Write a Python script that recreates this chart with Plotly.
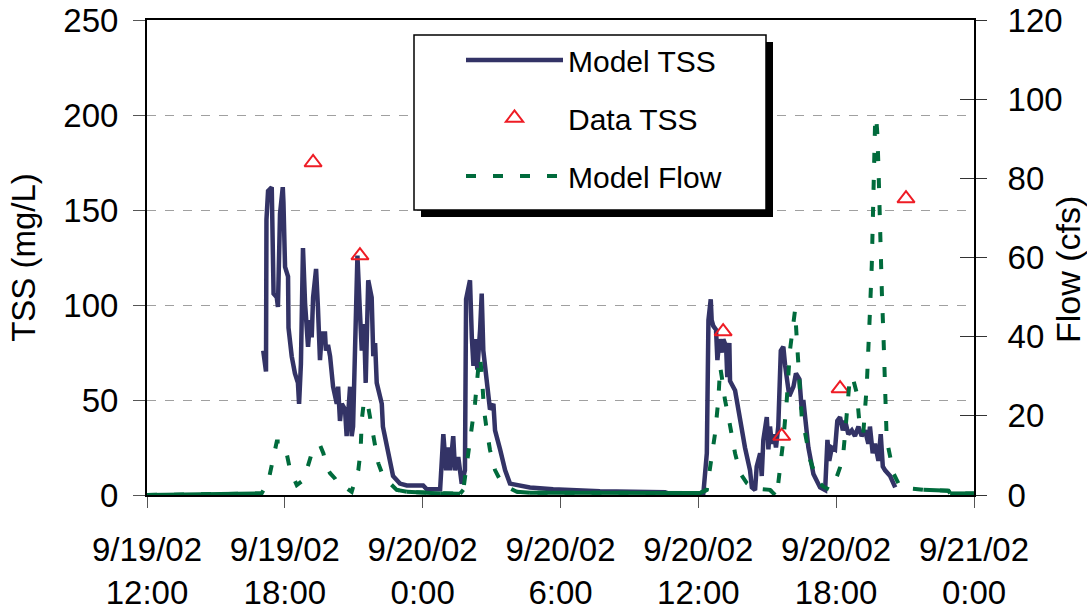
import pandas as pd
import plotly.graph_objects as go

# ---------------- data ----------------
START = pd.Timestamp("2002-09-19 12:00")

# hours after 9/19/02 12:00
tss_hours = [5.06, 5.18, 5.20, 5.27, 5.43, 5.46, 5.49, 5.51, 5.65, 5.70, 5.79, 5.91, 5.94, 6.01, 6.14, 6.16,
             6.30, 6.44, 6.57, 6.62, 6.70, 6.73, 6.79, 6.88, 6.95, 7.01, 7.10, 7.17, 7.23, 7.36, 7.44, 7.53,
             7.61, 7.75, 7.79, 7.88, 7.97, 8.10, 8.26, 8.32, 8.40, 8.48, 8.62, 8.69, 8.84, 8.91, 8.97, 9.05,
             9.16, 9.27, 9.35, 9.45, 9.52, 9.63, 9.78, 9.85, 9.93, 10.00, 10.22, 10.27, 10.49, 10.71, 11.01,
             11.31, 12.02, 12.18, 12.76, 12.90, 13.02, 13.12, 13.19, 13.33, 13.41, 13.55, 13.70, 13.84, 13.89,
             14.06, 14.14, 14.21, 14.28, 14.38, 14.50, 14.57, 14.64, 14.71, 14.86, 14.93, 15.08, 15.15, 15.37,
             15.59, 15.80, 16.67, 17.68, 18.42, 19.72, 22.55, 22.77, 24.07, 24.22, 24.37, 24.44, 24.54, 24.58,
             24.65, 24.77, 24.83, 24.92, 25.02, 25.09, 25.21, 25.26, 25.35, 25.38, 25.60, 25.82, 26.03, 26.25,
             26.33, 26.47, 26.54, 26.69, 26.76, 26.83, 26.98, 27.05, 27.12, 27.20, 27.30, 27.38, 27.48, 27.59,
             27.70, 27.78, 27.85, 27.96, 28.14, 28.25, 28.40, 28.50, 28.57, 28.65, 28.79, 29.01, 29.30, 29.52,
             29.62, 29.70, 29.81, 29.95, 30.05, 30.17, 30.29, 30.39, 30.53, 30.68, 30.82, 30.97, 31.11, 31.26,
             31.40, 31.47, 31.59, 31.69, 31.84, 31.94, 32.03, 32.13, 32.35, 32.57]
tss_values = [76, 65, 145, 160, 162, 139, 131, 106, 104, 99, 148, 162, 154, 120, 115, 88,
              73, 64, 59, 48, 69, 101, 130, 101, 92, 78, 92, 83, 104, 119, 99, 71,
              85, 85, 76, 79, 73, 57, 48, 57, 39, 48, 45, 31, 57, 31, 36, 83,
              126, 96, 76, 90, 59, 113, 104, 73, 80, 59, 48, 36, 22, 10, 6,
              5, 5, 3, 3, 32, 13, 25, 13, 31, 13, 20, 6, 13, 103,
              113, 83, 68, 82, 66, 87, 106, 76, 69, 52, 45, 48, 34, 24,
              13, 6, 4, 3, 2.6, 2, 1.5, 0.5, 0.5, 1, 22, 92, 103, 92,
              89, 87, 71, 82, 75, 82, 78, 62, 80, 60, 55, 39, 25, 13,
              4, 2.6, 15, 22, 10, 29, 41, 24, 36, 27, 32, 25, 36, 76,
              78, 68, 61, 52, 57, 64, 61, 45, 50, 39, 25, 11, 4, 2.6,
              29, 18, 25, 24, 39, 41, 34, 39, 32, 34, 31, 36, 31, 34,
              27, 36, 22, 27, 18, 32, 15, 13, 10, 4]

flow_hours = [0.00, 4.99, 5.28, 5.50, 5.65, 5.86, 6.08, 6.23, 6.37, 6.52, 6.73, 6.95, 7.17, 7.31, 7.53,
              7.68, 7.82, 7.97, 8.18, 8.40, 8.69, 8.91, 9.06, 9.20, 9.30, 9.35, 9.45, 9.63, 9.78, 9.93,
              10.07, 10.29, 10.58, 10.87, 11.31, 12.76, 13.63, 13.77, 13.92, 14.06, 14.21, 14.28, 14.42,
              14.50, 14.58, 14.67, 14.79, 14.93, 15.15, 15.37, 15.66, 16.10, 16.67, 24.07, 24.37, 24.51,
              24.73, 24.87, 24.95, 25.02, 25.16, 25.31, 25.45, 25.60, 25.82, 26.11, 26.40, 27.12, 27.34,
              27.48, 27.70, 27.85, 27.99, 28.14, 28.21, 28.29, 28.40, 28.50, 28.65, 28.87, 29.16, 29.44,
              29.73, 29.87, 30.17, 30.31, 30.39, 30.46, 30.60, 30.75, 30.90, 31.04, 31.18, 31.33, 31.40,
              31.47, 31.55, 31.60, 31.65, 31.69, 31.74, 31.79, 31.84, 31.91, 31.99, 32.06, 32.13, 32.20,
              32.35, 32.49, 32.78, 33.07, 33.80, 34.89, 34.96, 36.00]
flow_values = [0, 0.4, 3.4, 9.7, 13.5, 13.5, 10.5, 6.3, 4.6, 2.5, 3.4, 6.3, 10.5, 12.2, 12.6,
               10.5, 7.1, 5.5, 4.2, 2.1, 1.7, 0.8, 3.8, 6.3, 11.4, 19, 24, 22.3, 17.3, 12.2,
               8, 4.6, 3, 1.3, 0.8, 0.4, 0.3, 1.3, 8, 14.7, 20.6, 23.2, 32,
               35, 30, 21.5, 16.4, 11.4, 6.3, 3.8, 2.1, 0.8, 0.6, 0.5, 1.3, 7.1,
               15.6, 24, 32.4, 29.9, 24, 19.8, 15.6, 10.5, 5.5, 3, 1.7, 1.3, 0,
               3, 13.9, 24, 36.6, 45, 46.7, 39, 28.2, 19.8, 15.6, 8.8, 3.8, 2.1,
               1.3, 2, 7, 10.5, 15.6, 21.5, 30, 29, 25.7, 16.4, 15.6, 27.4, 40,
               46.3, 58, 70, 87, 93, 95.6, 91.4, 83, 66, 51, 40, 28, 14,
               9.7, 5.5, 2.1, 1.7, 1.3, 1.1, 0.4, 0.4]

data_hours = [7.23, 9.27, 25.08, 27.63, 30.17, 33.04]
data_tss = [175, 126, 86, 31, 56, 156]

tick_hours = [0, 6, 12, 18, 24, 30, 36]
tick_text = ["9/19/02<br>12:00", "9/19/02<br>18:00", "9/20/02<br>0:00", "9/20/02<br>6:00",
             "9/20/02<br>12:00", "9/20/02<br>18:00", "9/21/02<br>0:00"]


def to_time(hours):
    return [START + pd.Timedelta(hours=h) if h is not None else None for h in hours]


# low-flow stretches render as a continuous line in the original (dense points)
base_hours, base_values = [], []
for i in range(len(flow_values) - 1):
    if flow_values[i] <= 1.3 and flow_values[i + 1] <= 1.3:
        base_hours += [flow_hours[i], flow_hours[i + 1], None]
        base_values += [flow_values[i], flow_values[i + 1], None]

FONT = "Liberation Sans, Arial, sans-serif"
NAVY = "#333366"
GREEN = "#006B3C"
RED = "#EE1C25"

fig = go.Figure()
fig.add_trace(go.Scatter(x=to_time(base_hours), y=base_values, mode="lines", showlegend=False,
                         hoverinfo="skip", line=dict(color=GREEN, width=4), yaxis="y3"))
fig.add_trace(go.Scatter(x=to_time(tss_hours), y=tss_values, mode="lines", name="Model TSS",
                         line=dict(color=NAVY, width=4.5), legendgroup="a"))
fig.add_trace(go.Scatter(x=to_time(data_hours), y=data_tss, mode="markers", name="Data TSS",
                         marker=dict(symbol="triangle-up-open", size=15, color=RED, line=dict(width=2, color=RED)),
                         legendgroup="b"))
fig.add_trace(go.Scatter(x=to_time(flow_hours), y=flow_values, mode="lines", name="Model Flow",
                         line=dict(color=GREEN, width=4, dash="10px,17px"), yaxis="y2", legendgroup="c"))

L, R, T, B = 147, 113, 20, 118
W, H = 1087, 613
pw, ph = W - L - R, H - T - B


def px(x):
    return (x - L) / pw


def py(y):
    return (H - B - y) / ph


fig.update_layout(
    width=W, height=H,
    margin=dict(l=L, r=R, t=T, b=B, autoexpand=False),
    paper_bgcolor="white", plot_bgcolor="white",
    font=dict(family=FONT, size=33, color="black"),
    showlegend=True,
    legend=dict(x=px(461), y=py(34), xanchor="left", yanchor="top",
                bgcolor="rgba(0,0,0,0)", borderwidth=0,
                font=dict(size=30, family=FONT, color="black"),
                itemwidth=97, tracegroupgap=16, traceorder="grouped"),
    xaxis=dict(type="date", range=[START, START + pd.Timedelta(hours=36)],
               tickvals=to_time(tick_hours), ticktext=tick_text,
               showline=True, linecolor="black", linewidth=2, mirror=True,
               ticks="outside", ticklen=11, tickwidth=1, tickcolor="#555",
               ticklabelstandoff=13,
               showgrid=False, zeroline=False, tickfont=dict(size=33)),
    yaxis=dict(range=[0, 250], tickvals=[0, 50, 100, 150, 200, 250],
               showline=True, linecolor="black", linewidth=2,
               ticks="outside", ticklen=12, tickwidth=1, tickcolor="#555",
               ticklabelstandoff=8,
               showgrid=True, gridcolor="#A0A0A0", gridwidth=1, griddash="dash",
               zeroline=False, tickfont=dict(size=33),
               title=dict(text="TSS (mg/L)", font=dict(size=33), standoff=18)),
    yaxis2=dict(range=[0, 120], tickvals=[0, 20, 40, 60, 80, 100, 120],
                overlaying="y", side="right",
                showline=True, linecolor="black", linewidth=2,
                ticks="outside", ticklen=11, tickwidth=1, tickcolor="#333",
                ticklabelstandoff=14,
                showgrid=False, zeroline=False, tickfont=dict(size=33)),
    yaxis3=dict(range=[0, 120], tickvals=[0, 20, 40, 60, 80, 100, 120],
                overlaying="y", side="right", showticklabels=False,
                showline=False, ticks="inside", ticklen=14, tickwidth=1, tickcolor="#333",
                showgrid=False, zeroline=False),
)

fig.add_annotation(text="Flow (cfs)", textangle=-90, xref="paper", yref="paper",
                   x=px(1068), y=py(270), xanchor="center", yanchor="middle",
                   showarrow=False, font=dict(size=34, family=FONT, color="black"))

# legend frame with drop shadow
fig.add_shape(type="rect", xref="paper", yref="paper",
              x0=px(421), x1=px(773), y0=py(217), y1=py(42),
              fillcolor="black", line=dict(width=0), layer="above")
fig.add_shape(type="rect", xref="paper", yref="paper",
              x0=px(414), x1=px(766), y0=py(210), y1=py(35),
              fillcolor="white", line=dict(color="black", width=1.5), layer="above")

fig.write_html("out.html")
